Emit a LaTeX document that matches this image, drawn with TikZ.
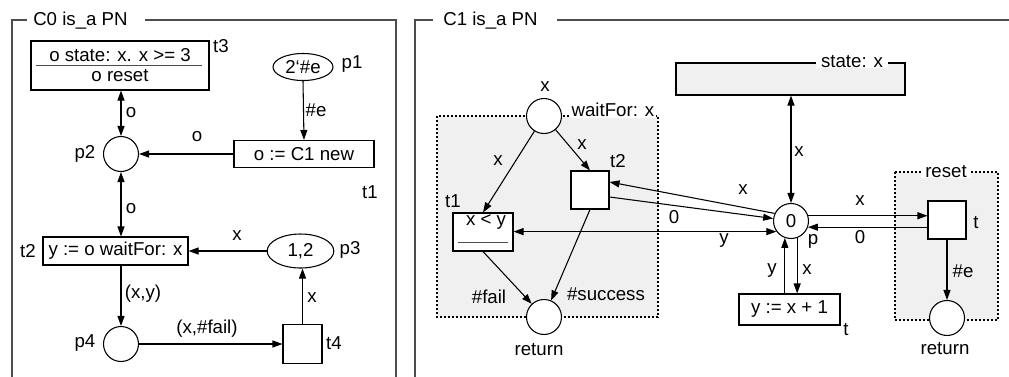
\documentclass[tikz,border=0pt]{standalone}
\usepackage{fontspec}
\setmainfont{Liberation Sans}
\usetikzlibrary{arrows.meta,shapes.geometric}
\definecolor{frameline}{RGB}{77,77,77}
\definecolor{regionfill}{RGB}{240,240,240}
\tikzset{
  every node/.style={font=\fontsize{14}{16}\selectfont},
  pnplace/.style={circle,draw,fill=white,line width=0.8pt,minimum size=26.25pt,inner sep=0pt},
  pntoken/.style={ellipse,draw,fill=white,line width=0.8pt,inner sep=0pt},
  pntrans/.style={rectangle,draw,fill=white,line width=0.8pt,inner sep=0pt},
  pnarc/.style={-{Triangle[length=7.5pt,width=5.25pt]},line width=0.8pt},
  pnbiarc/.style={{Triangle[length=7.5pt,width=5.25pt]}-{Triangle[length=7.5pt,width=5.25pt]},line width=0.8pt},
  lab/.style={inner sep=0pt},
  pnframe/.style={draw=frameline,line width=1.1pt},
  pnregion/.style={draw,fill=regionfill,dash pattern=on 1.5pt off 1.5pt,line width=0.8pt},
  regiontitle/.style={fill=white,inner xsep=3.5pt,inner ysep=0pt},
  guardrule/.style={draw=frameline,line width=1.3pt},
}
\begin{document}
\begin{tikzpicture}[x=0.75pt,y=-0.75pt]
\useasboundingbox (0,0) rectangle (1009,376);
% the two class frames
\draw[pnframe] (27,20) -- (12,20) -- (12,390);
\draw[pnframe] (145,20) -- (396,20) -- (396,390);
\node[lab,anchor=west] (c0title) at (33,21) {C0 is\_a PN};
\draw[pnframe] (433,20) -- (415,20) -- (415,390);
\draw[pnframe] (557,20) -- (1020,20);
\node[lab,anchor=west] (c1title) at (443,21) {C1 is\_a PN};

% C0
\node[pntrans,minimum width=133.5pt,minimum height=36.75pt,align=center] (t3) at (120,65.5) {o state: x. x >= 3\\[-1pt]o reset};
\draw[guardrule] ([xshift=4.5pt]t3.west) -- ([xshift=-6pt]t3.east);
\node[lab] (t3lab) at (221,46) {t3};
\node[pntoken,minimum width=45pt,minimum height=20.25pt] (p1) at (303,67) {2\textquoteleft\#e};
\node[lab] (p1lab) at (352,64) {p1};
\node[pntrans,minimum width=105pt,minimum height=20.25pt] (t1) at (304,154) {o := C1 new};
\node[lab] (t1lab) at (370,192) {t1};
\node[pnplace] (p2) at (121,154) {};
\node[lab] (p2lab) at (85,154) {p2};
\node[pntrans,minimum width=108.75pt,minimum height=21pt] (t2) at (115.5,251) {y := o waitFor: x};
\node[lab] (t2lab) at (28,251) {t2};
\node[pntoken,minimum width=50pt,minimum height=25.5pt] (p3) at (300.5,251) {1,2};
\node[lab] (p3lab) at (350,250) {p3};
\node[pnplace] (p4) at (121,344) {};
\node[lab] (p4lab) at (85,343) {p4};
\node[pntrans,minimum size=29.25pt] (t4) at (302.5,344) {};
\node[lab] (t4lab) at (334,343) {t4};

\draw[pnarc] (p1.south) -- (t1.north);
\node[lab] (e1) at (316,110) {\#e};
\draw[pnarc] (t1.west) -- (p2.east);
\node[lab] (e2) at (197,137) {o};
\draw[pnbiarc] (t3.south -| p2.north) -- (p2.north);
\node[lab] (e3) at (131,113) {o};
\draw[pnbiarc] (p2.south) -- (p2.south |- t2.north);
\node[lab] (e4) at (131,209) {o};
\draw[pnarc] (p3.west) -- (t2.east);
\node[lab] (e5) at (237,236) {x};
\draw[pnarc] (p4.north |- t2.south) -- (p4.north);
\node[lab] (e6) at (143,294) {(x,y)};
\draw[pnarc] (p4.east) -- (t4.west);
\node[lab] (e7) at (207,329) {(x,\#fail)};
\draw[pnarc] (t4.north) -- (t4.north |- p3.south);
\node[lab] (e8) at (312,298) {x};

% C1
\draw[pnregion] (437,116) rectangle (658,317);
\draw[pnregion] (895,172) rectangle (998,320);
\node[regiontitle] (resetlab) at (946,172) {reset};
\node[pntrans,fill=regionfill,minimum width=171.75pt,minimum height=24pt] (state) at (790.5,79) {};
\node[regiontitle] (statelab) at (852,62) {state: x};

\node[pnplace] (ptop) at (544,116) {};
\node[lab] (ptoplab) at (545,87) {x};
\node[fill=white,inner sep=1pt,anchor=base west] (waitlab) at (570,116) {waitFor: x};
\node[pntrans,minimum width=45pt,minimum height=28.5pt] (t1r) at (483,232) {};
\node[lab] (t1rtxt) at (486,222) {x < y};
\draw[guardrule] ([xshift=4.5pt,yshift=6.75pt]t1r.south west) -- ([xshift=-4.5pt,yshift=6.75pt]t1r.south east);
\node[lab] (t1rlab) at (453,201) {t1};
\node[pntrans,minimum size=28.5pt] (t2r) at (590,190) {};
\node[lab] (t2rlab) at (618,161) {t2};
\node[pnplace] (ret1) at (544,317) {};
\node[lab] (ret1lab) at (539,350) {return};
\node[pnplace] (p0) at (791,221) {0};
\node[lab] (p0lab) at (813,241) {p};
\node[pntrans,minimum width=75.75pt,minimum height=23.25pt] (inc) at (789.5,309.5) {y := x + 1};
\node[lab] (inclab) at (846,330) {t};
\node[pntrans,minimum size=28.5pt] (t) at (947,220) {};
\node[lab] (tlab) at (976,223) {t};
\node[pnplace] (ret2) at (947,318) {};
\node[lab] (ret2lab) at (945,349) {return};

\draw[pnarc] (ptop) -- (t1r.north);
\node[lab] (e9) at (498,161) {x};
\draw[pnarc] (ptop) -- (t2r.north);
\node[lab] (e10) at (582,145) {x};
\draw[pnarc] (p0.155) -- ([yshift=6pt]t2r.east);
\node[lab] (e11) at (743,190) {x};
\draw[pnarc] ([yshift=-5.25pt]t2r.east) -- (p0.172);
\node[lab] (e12) at (674,217) {0};
\draw[pnbiarc] (t1r.east |- p0.216) -- (p0.216);
\node[lab] (e13) at (724,240) {y};
\draw[pnarc] (t1r.south) -- (ret1);
\node[lab] (e14) at (489,297) {\#fail};
\draw[pnarc] (t2r.south) -- (ret1);
\node[lab] (e15) at (606,294) {\#success};
\draw[pnbiarc] (state.south -| p0.north) -- (p0.north);
\node[lab] (e16) at (799,152) {x};
\draw[pnarc] (p0.17) -- (p0.17 -| t.west);
\node[lab] (e17) at (860,201) {x};
\draw[pnarc] (p0.340 -| t.west) -- (p0.340);
\node[lab] (e18) at (860,237) {0};
\draw[pnarc] (p0.290) -- (p0.290 |- inc.north);
\node[lab] (e19) at (807,270) {x};
\draw[pnarc] (p0.250 |- inc.north) -- (p0.250);
\node[lab] (e20) at (772,270) {y};
\draw[pnarc] (t.south) -- (ret2.north);
\node[lab] (e21) at (963,271) {\#e};
\end{tikzpicture}
\end{document}
